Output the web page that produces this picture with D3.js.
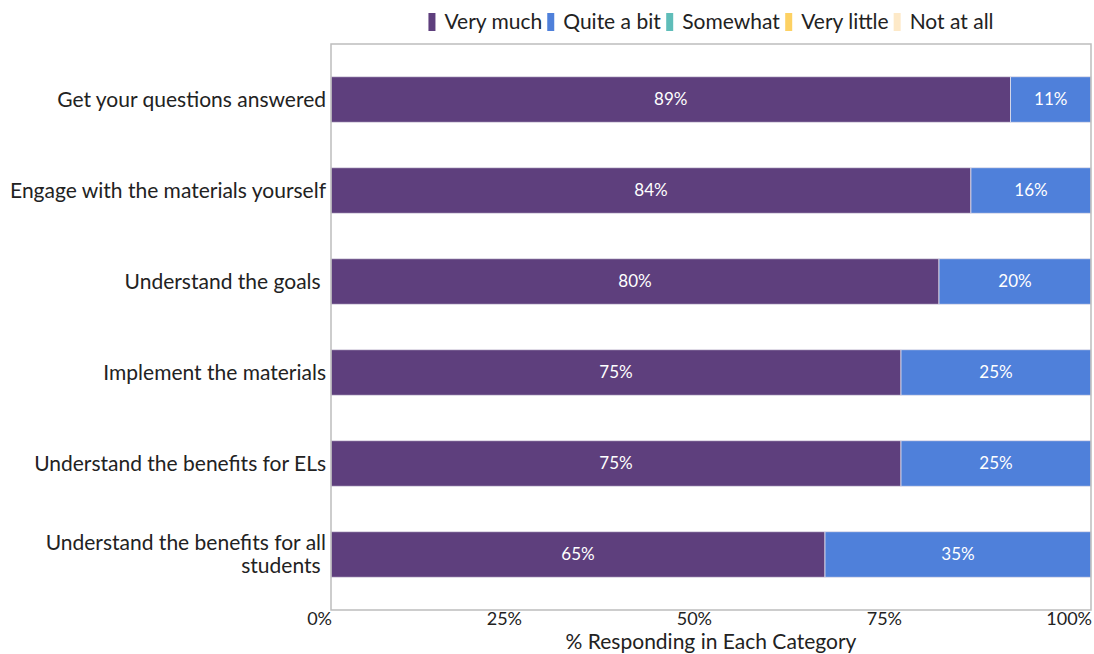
<!DOCTYPE html>
<html>
<head>
<meta charset="utf-8">
<script src="https://cdn.jsdelivr.net/npm/d3@7"></script>
<style>
  body { margin: 0; background: #fff; }
  text { font-family: Lato, "Open Sans", sans-serif; fill: #222; }
</style>
</head>
<body>
<div id="chart"></div>
<script>
const categories = [
  'Get your questions answered',
  'Engage with the materials yourself',
  'Understand the goals ',
  'Implement the materials',
  'Understand the benefits for ELs',
  'Understand the benefits for all|students '
];
const seriesNames = ['Very much', 'Quite a bit', 'Somewhat', 'Very little', 'Not at all'];
const veryMuch = [89.4, 84.2, 80, 75, 75, 65];
const quiteABit = [10.6, 15.8, 20, 25, 25, 35];
const somewhat = [0, 0, 0, 0, 0, 0];
const veryLittle = [0, 0, 0, 0, 0, 0];
const notAtAll = [0, 0, 0, 0, 0, 0];
const xTicks = [0, 25, 50, 75, 100];

const width = 1094;
const height = 654;
const margin = { top: 44, right: 3, bottom: 44, left: 331 };

const colors = ['#5e3f7d', '#4f80da', '#5fbdb9', '#fdd163', '#fde9c8'];

const svg = d3.select('#chart')
  .append('svg')
  .attr('width', width)
  .attr('height', height);

const rows = categories.map((c, i) => ({
  cat: c,
  'Very much': veryMuch[i],
  'Quite a bit': quiteABit[i],
  'Somewhat': somewhat[i],
  'Very little': veryLittle[i],
  'Not at all': notAtAll[i]
}));

const stack = d3.stack().keys(seriesNames)(rows);

const x = d3.scaleLinear()
  .domain([0, 100])
  .range([margin.left, width - margin.right]);

const y = d3.scaleBand()
  .domain(categories)
  .range([margin.top, height - margin.bottom])
  .paddingInner(0.5)
  .paddingOuter(0.36);

const color = d3.scaleOrdinal().domain(seriesNames).range(colors);

// bars
const layer = svg.append('g')
  .selectAll('g')
  .data(stack)
  .enter()
  .append('g')
  .attr('fill', (d) => color(d.key));

layer.selectAll('rect')
  .data((d) => d.filter((s) => s[1] - s[0] > 0))
  .enter()
  .append('rect')
  .attr('x', (d) => x(d[0]))
  .attr('y', (d) => y(d.data.cat))
  .attr('width', (d) => x(d[1]) - x(d[0]))
  .attr('height', y.bandwidth())
  .attr('stroke', '#e4e0ea')
  .attr('stroke-width', 0.8);

layer.selectAll('text')
  .data((d) => d.filter((s) => s[1] - s[0] > 0))
  .enter()
  .append('text')
  .attr('x', (d) => (x(d[0]) + x(d[1])) / 2)
  .attr('y', (d) => y(d.data.cat) + y.bandwidth() / 2)
  .attr('dy', '0.35em')
  .attr('text-anchor', 'middle')
  .style('fill', '#fff')
  .style('font-size', '17px')
  .text((d) => Math.round(d[1] - d[0]) + '%');

// frame
svg.append('rect')
  .attr('x', margin.left)
  .attr('y', margin.top)
  .attr('width', width - margin.right - margin.left)
  .attr('height', height - margin.bottom - margin.top)
  .attr('fill', 'none')
  .attr('stroke', '#bdbdbd')
  .attr('stroke-width', 1.5);

// category labels
const catLabel = svg.append('g')
  .selectAll('text')
  .data(categories)
  .enter()
  .append('text')
  .attr('text-anchor', 'end')
  .attr('xml:space', 'preserve')
  .style('white-space', 'pre')
  .style('font-size', '21px')
  .attr('y', (d) => y(d) + y.bandwidth() / 2);

catLabel.selectAll('tspan')
  .data((d) => d.split('|').map((t, i, a) => ({ t, i, n: a.length })))
  .enter()
  .append('tspan')
  .attr('x', margin.left - 5)
  .attr('dy', (d) => d.i === 0 ? (0.35 - (d.n - 1) * 0.55) + 'em' : '1.1em')
  .text((d) => d.t);

// x tick labels (right-aligned at the tick)
svg.append('g')
  .selectAll('text')
  .data(xTicks)
  .enter()
  .append('text')
  .attr('x', (d) => x(d) + 1)
  .attr('y', height - margin.bottom + 9)
  .attr('dy', '0.35em')
  .attr('text-anchor', 'end')
  .style('font-size', '18px')
  .text((d) => d + '%');

svg.append('text')
  .attr('x', (margin.left + width - margin.right) / 2)
  .attr('y', 642)
  .attr('dy', '0.35em')
  .attr('text-anchor', 'middle')
  .style('font-size', '21px')
  .text('% Responding in Each Category');

// legend
const legend = svg.append('g').attr('class', 'legend');
const legendItems = legend.selectAll('g')
  .data(seriesNames)
  .enter()
  .append('g');

legendItems.append('rect')
  .attr('width', 7)
  .attr('height', 18)
  .attr('y', 13)
  .attr('fill', (d) => color(d));

legendItems.append('text')
  .attr('x', 16)
  .attr('y', 21.5)
  .attr('dy', '0.35em')
  .style('font-size', '21px')
  .text((d) => d);

let lx = 0;
legendItems.each(function () {
  const w = this.getBBox().width;
  d3.select(this).attr('transform', `translate(${lx}, 0)`);
  lx += w + 5;
});
const legendWidth = lx - 5;
legend.attr('transform', `translate(${(margin.left + width - margin.right) / 2 - legendWidth / 2}, 0)`);
</script>
</body>
</html>
